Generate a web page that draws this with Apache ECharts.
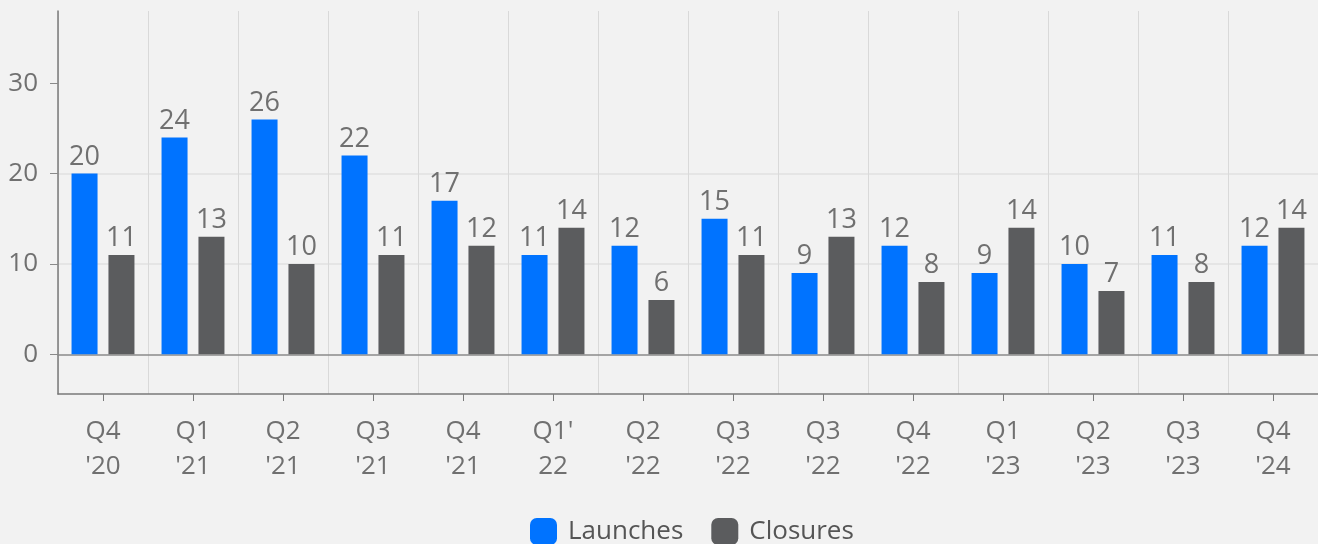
<!DOCTYPE html>
<html>
<head>
<meta charset="utf-8">
<script src="https://cdn.jsdelivr.net/npm/echarts@6/dist/echarts.min.js"></script>
<style>
html,body{margin:0;padding:0;background:#f2f2f2;}
#c{width:1318px;height:544px;}
</style>
</head>
<body>
<div id="c"></div>
<script>
const categories = ["Q4\n'20","Q1\n'21","Q2\n'21","Q3\n'21","Q4\n'21","Q1'\n22","Q2\n'22","Q3\n'22","Q3\n'22","Q4\n'22","Q1\n'23","Q2\n'23","Q3\n'23","Q4\n'24"];
const launches = [20,24,26,22,17,11,12,15,9,12,9,10,11,12];
const closures = [11,13,10,11,12,14,6,11,13,8,14,7,8,14];
const yTicks = [0,10,20,30];

const FONT = '"Open Sans", "Noto Sans", sans-serif';
const TXT = '#707070';

const chart = echarts.init(document.getElementById('c'), null, {renderer:'canvas'});
chart.setOption({
  backgroundColor: '#f2f2f2',
  animation: false,
  textStyle: {fontFamily: FONT},
  grid: {left: 58, right: 0, top: 11, bottom: 150, containLabel: false},
  legend: {
    left: 525, top: 513,
    itemWidth: 27, itemHeight: 27, itemGap: 28,
    icon: 'roundRect',
    textStyle: {fontFamily: FONT, fontSize: 26, color: '#555', padding: [0,0,0,6]},
    data: ['Launches','Closures']
  },
  xAxis: [{
    type: 'category',
    data: categories,
    axisLine: {onZero: false, lineStyle: {color: '#7a7a7a', width: 1.5}},
    axisTick: {show: true, alignWithLabel: true, length: 7, lineStyle: {color: '#7a7a7a'}},
    axisLabel: {fontFamily: FONT, fontSize: 26, color: TXT, lineHeight: 35, margin: 20, interval: 0},
    splitLine: {show: true, interval: 0, lineStyle: {color: '#d9d9d9', width: 1}}
  },{
    type: 'category',
    data: categories,
    position: 'bottom',
    axisLine: {show: true, onZero: true, lineStyle: {color: '#8a8a8a', width: 1.5}},
    axisTick: {show: false},
    axisLabel: {show: false},
    splitLine: {show: false}
  }],
  yAxis: {
    type: 'value',
    min: -4.4, max: 38,
    axisLine: {show: true, lineStyle: {color: '#7a7a7a', width: 1.5}},
    axisTick: {show: true, length: 8, customValues: yTicks, lineStyle: {color: '#8a8a8a'}},
    axisLabel: {fontFamily: FONT, fontSize: 26, color: TXT, margin: 20, customValues: yTicks},
    splitLine: {show: true, showMinLine: false, showMaxLine: false, lineStyle: {color: '#e0e0e0', width: 1.5}}
  },
  series: [{
    name: 'Launches', type: 'bar', data: launches,
    barWidth: 26, barGap: '42%',
    itemStyle: {color: '#0073ff'},
    label: {show: true, position: 'top', distance: 3, fontFamily: FONT, fontSize: 27, color: TXT}
  },{
    name: 'Closures', type: 'bar', data: closures,
    barWidth: 26, barGap: '42%',
    itemStyle: {color: '#5b5c5e'},
    label: {show: true, position: 'top', distance: 3, fontFamily: FONT, fontSize: 27, color: TXT}
  }]
});
</script>
</body>
</html>
